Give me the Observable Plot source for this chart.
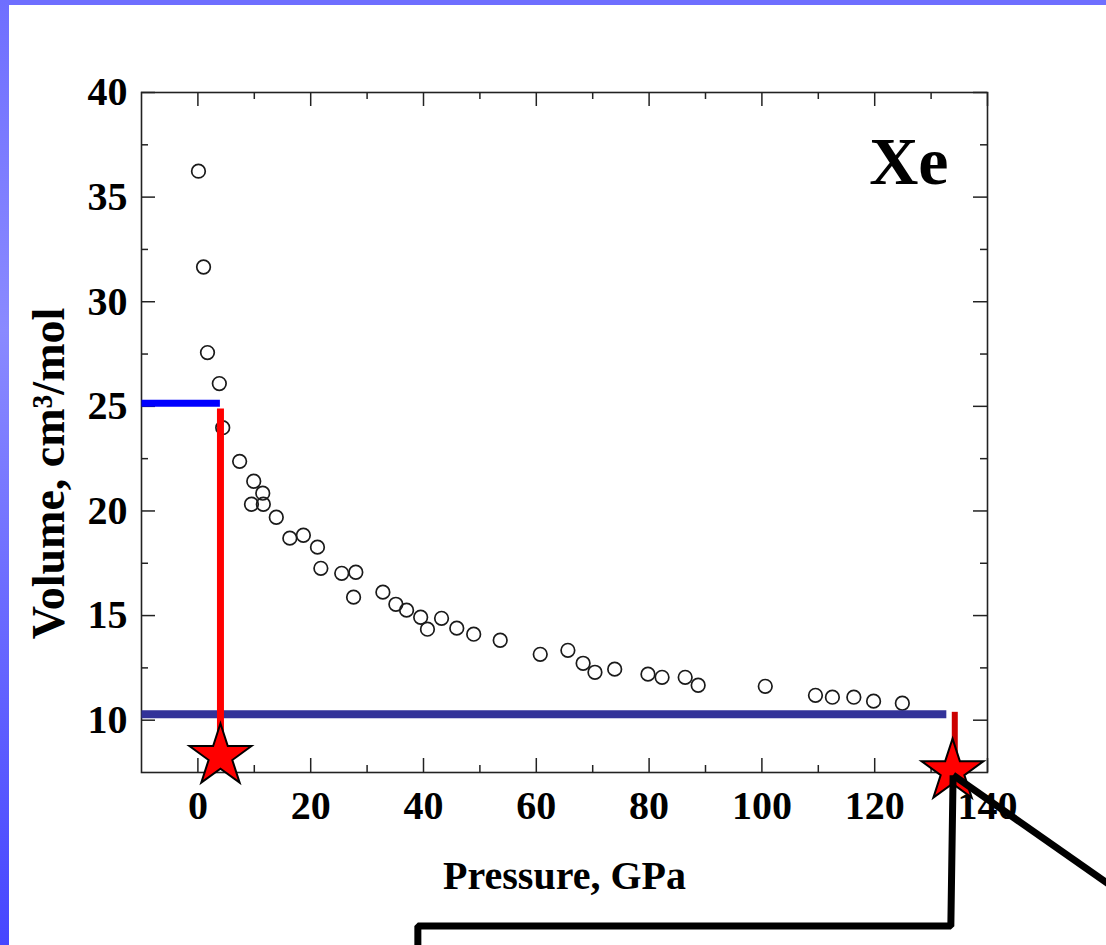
<!DOCTYPE html>
<html>
<head>
<meta charset="utf-8">
<script src="https://cdn.jsdelivr.net/npm/d3@7"></script>
<script src="https://cdn.jsdelivr.net/npm/@observablehq/plot@0.6"></script>
<style>
  html, body { margin: 0; padding: 0; background: #fff; }
  #wrap { position: relative; width: 1106px; height: 945px; overflow: hidden; background: #fff; }
  #chart { position: absolute; left: 0; top: 0; }
  .band-top { position: absolute; left: 0; top: 0; width: 1106px; height: 5px; background: #6f6fff; z-index: 2; }
  .band-left { position: absolute; left: 0; top: 0; width: 9px; height: 945px; z-index: 2;
    background: linear-gradient(to bottom, #6f6fff 0%, #8a8aff 35%, #6a6aff 65%, #4646ff 100%); }
</style>
</head>
<body>
<div id="wrap">
  <div class="band-top"></div>
  <div class="band-left"></div>
  <div id="chart"></div>
</div>
<script>
// Measured Xe data: pressure (GPa) and molar volume (cm^3/mol)
const pressure = [0.1, 1.0, 1.7, 3.8, 4.4, 7.4, 9.9, 11.5, 9.5, 11.6, 13.9, 16.3, 18.7, 21.2, 21.8,
  25.5, 28.0, 27.6, 32.8, 35.1, 37.0, 39.5, 40.7, 43.2, 45.9, 48.9, 53.6, 60.7, 65.6, 68.3,
  70.4, 73.9, 79.8, 82.3, 86.4, 88.7, 100.6, 109.5, 112.5, 116.3, 119.8, 124.9];
const volume = [36.24, 31.66, 27.57, 26.09, 23.98, 22.37, 21.42, 20.85, 20.32, 20.32, 19.70, 18.70, 18.84, 18.27, 17.26,
  17.02, 17.07, 15.88, 16.12, 15.54, 15.26, 14.92, 14.35, 14.87, 14.40, 14.11, 13.82, 13.15, 13.34, 12.72,
  12.29, 12.44, 12.20, 12.05, 12.05, 11.67, 11.62, 11.19, 11.10, 11.10, 10.91, 10.81];

// Axis ticks
const xTicks = [0, 20, 40, 60, 80, 100, 120, 140];
const xMinorTicks = [10, 30, 50, 70, 90, 110, 130];
const yTicks = [10, 15, 20, 25, 30, 35, 40];
const yMinorTicks = [12.5, 17.5, 22.5, 27.5, 32.5, 37.5];

// Reference / annotation lines (data coordinates)
const blueRefP = [-10, 3.9];
const blueRefV = [25.15, 25.15];
const navyRefP = [-10, 132.7];
const navyRefV = [10.29, 10.29];
const redLeftP = [4.0, 4.0];
const redLeftV = [24.9, 8.3];
const redRightP = [134.2, 134.2];
const redRightV = [10.40, 7.6];
const starP = [4.0, 133.8];
const starV = [8.28, 7.56];
const calloutP = [133.9, 133.5, 39.0, 39.0];
const calloutV = [7.37, 0.16, 0.16, -1.5];
const pointerP = [133.9, 163.7];
const pointerV = [7.37, 1.75];

const xLabel = "Pressure, GPa";
const yLabel = "Volume, cm³/mol";
const elementLabel = "Xe";

const points = pressure.map((p, i) => ({p, v: volume[i]}));
const pairs = (P, V) => P.map((p, i) => ({p, v: V[i]}));

const W = 1106, H = 945;
const mL = 141, mR = 119, mT = 92, mB = 173;
const plotH = H - mT - mB, plotW = W - mL - mR;
const major = 14, minor = 7;
const font = "'Liberation Serif', 'Times New Roman', serif";
const axisColor = "#222";

const chart = Plot.plot({
  width: W,
  height: H,
  marginLeft: mL,
  marginRight: mR,
  marginTop: mT,
  marginBottom: mB,
  style: {fontFamily: font, fontWeight: "bold", background: "transparent", color: "#000"},
  x: {domain: [-10, 140]},
  y: {domain: [7.5, 40]},
  marks: [
    // inward ticks on all four sides
    Plot.ruleX(xTicks, {x: d => d, insetTop: plotH - major, stroke: axisColor, strokeWidth: 1.5}),
    Plot.ruleX(xMinorTicks, {x: d => d, insetTop: plotH - minor, stroke: axisColor, strokeWidth: 1.5}),
    Plot.ruleX(xTicks, {x: d => d, insetBottom: plotH - major, stroke: axisColor, strokeWidth: 1.5}),
    Plot.ruleX(xMinorTicks, {x: d => d, insetBottom: plotH - minor, stroke: axisColor, strokeWidth: 1.5}),
    Plot.ruleY(yTicks, {y: d => d, insetRight: plotW - major, stroke: axisColor, strokeWidth: 1.5}),
    Plot.ruleY(yMinorTicks, {y: d => d, insetRight: plotW - minor, stroke: axisColor, strokeWidth: 1.5}),
    Plot.ruleY(yTicks, {y: d => d, insetLeft: plotW - major, stroke: axisColor, strokeWidth: 1.5}),
    Plot.ruleY(yMinorTicks, {y: d => d, insetLeft: plotW - minor, stroke: axisColor, strokeWidth: 1.5}),
    Plot.frame({stroke: axisColor, strokeWidth: 1.6}),
    Plot.axisX({ticks: xTicks, tickSize: 0, tickPadding: 18, fontSize: 40, fontWeight: "bold", label: null}),
    Plot.axisY({ticks: yTicks, tickSize: 0, tickPadding: 14, fontSize: 40, fontWeight: "bold", label: null}),
    // data
    Plot.dot(points, {x: "p", y: "v", r: 6.8, stroke: "#1a1a1a", strokeWidth: 1.7, fill: "none"}),
    // reference lines
    Plot.line(pairs(blueRefP, blueRefV), {x: "p", y: "v", stroke: "#0000ff", strokeWidth: 7, strokeLinecap: "butt"}),
    Plot.line(pairs(navyRefP, navyRefV), {x: "p", y: "v", stroke: "#333399", strokeWidth: 8, strokeLinecap: "butt"}),
    Plot.line(pairs(redLeftP, redLeftV), {x: "p", y: "v", stroke: "#ff0000", strokeWidth: 7, strokeLinecap: "butt"}),
    Plot.line(pairs(redRightP, redRightV), {x: "p", y: "v", stroke: "#cc0000", strokeWidth: 6, strokeLinecap: "butt"}),
    Plot.dot(pairs(starP, starV), {x: "p", y: "v", symbol: "star", r: 19.5, fill: "#ff0000", stroke: "#000", strokeWidth: 2}),
    // callout lines
    Plot.line(pairs(calloutP, calloutV), {x: "p", y: "v", stroke: "#000", strokeWidth: 7, strokeLinejoin: "miter", strokeLinecap: "butt"}),
    Plot.line(pairs(pointerP, pointerV), {x: "p", y: "v", stroke: "#000", strokeWidth: 7, strokeLinecap: "butt"}),
    // labels
    Plot.text([xLabel], {text: d => d, frameAnchor: "bottom", textAnchor: "middle", dy: 116, lineAnchor: "bottom", fontSize: 40, fontWeight: "bold"}),
    Plot.text([yLabel], {text: d => d, frameAnchor: "left", textAnchor: "middle", rotate: -90, dx: -78, dy: 41, lineAnchor: "bottom", fontSize: 46, fontWeight: "bold"}),
    Plot.text([elementLabel], {text: d => d, frameAnchor: "top-right", textAnchor: "end", dx: -39, dy: 91, lineAnchor: "bottom", fontSize: 68, fontWeight: "bold"})
  ]
});
document.getElementById("chart").appendChild(chart);
</script>
</body>
</html>
